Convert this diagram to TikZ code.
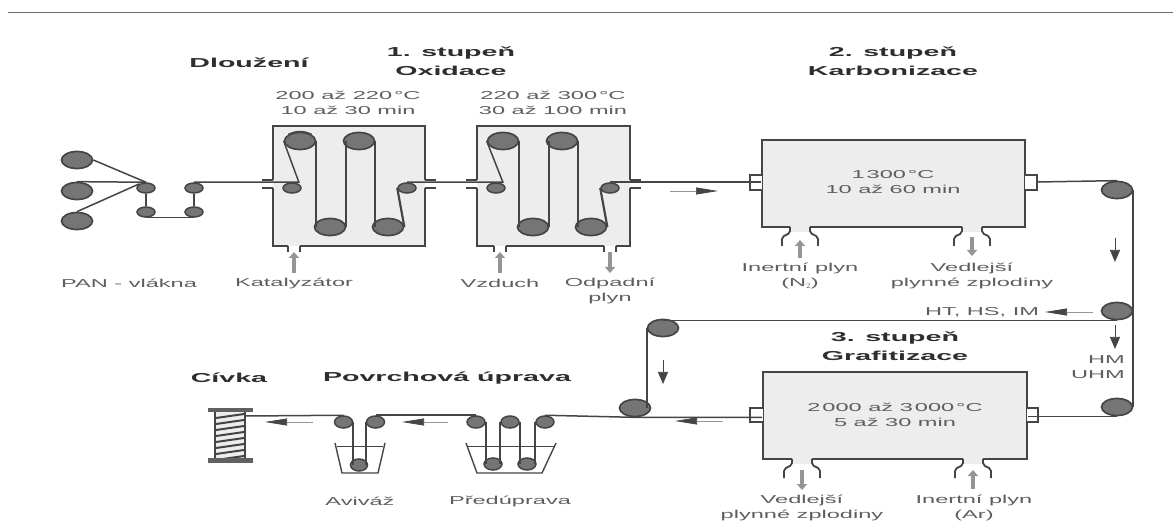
\documentclass[tikz,border=0pt]{standalone}
\usepackage{fontspec}
\setmainfont[FakeStretch=2.05,BoldFeatures={FakeStretch=2.2}]{Liberation Sans}
\usetikzlibrary{shapes.geometric,arrows.meta,calc}
\definecolor{ink}{HTML}{454545}
\definecolor{txt}{HTML}{5E5E5E}
\definecolor{head}{HTML}{2E2E2E}
\definecolor{boxfill}{HTML}{EDEDED}
\definecolor{wheel}{HTML}{757575}
\definecolor{gasgrey}{HTML}{959595}
\tikzset{
 fibre/.style={draw=ink,line width=1.5pt},
 fibrev/.style={draw=ink,line width=2.2pt},
 wall/.style={draw=ink,line width=1.8pt},
 chamber/.style={draw=ink,line width=1.8pt,fill=boxfill,rectangle,inner sep=0pt},
 big/.style={ellipse,draw=ink,line width=1.7pt,fill=wheel,minimum width=31pt,minimum height=17pt,inner sep=0pt},
 mid/.style={ellipse,draw=ink,line width=1.5pt,fill=wheel,minimum width=18pt,minimum height=12pt,inner sep=0pt},
 small/.style={ellipse,draw=ink,line width=1.5pt,fill=wheel,minimum width=18pt,minimum height=10pt,inner sep=0pt},
 flow/.style={draw=gasgrey,line width=.7pt,-{Triangle[length=22pt,width=7pt,color=ink]}},
 flowv/.style={draw=ink,line width=.7pt,-{Triangle[length=12pt,width=10pt,color=ink]}},
 gas/.style={draw=gasgrey,line width=4pt,-{Triangle[length=6pt,width=10pt,color=gasgrey]}},
 lab/.style={text=txt,font=\fontsize{11.5}{15}\selectfont,align=center,inner sep=0pt},
 ttl/.style={text=head,font=\fontsize{13}{19}\selectfont\bfseries,align=center,inner sep=0pt}
}
\begin{document}
\begin{tikzpicture}[x=1pt,y=-1pt]
\useasboundingbox (0,0) rectangle (1173,526);
\draw[draw=ink!80,line width=1pt] (8,13) -- (1173,13);
% chambers
\fill[boxfill] (273,126) rectangle (425,246);
\draw[wall] (273,180) -- (273,126) -- (425,126) -- (425,180);
\draw[wall] (273,188) -- (273,246) -- (288,246);
\draw[wall] (300,246) -- (425,246) -- (425,188);
\draw[wall] (262,180) -- (273,180) (262,188) -- (273,188) (425,180) -- (436,180) (425,188) -- (436,188);
\draw[wall] (288,246) -- (288,252) (300,246) -- (300,252);
\fill[boxfill] (477,126) rectangle (630,246);
\draw[wall] (477,180) -- (477,126) -- (630,126) -- (630,180);
\draw[wall] (477,188) -- (477,246) -- (494,246);
\draw[wall] (506,246) -- (604,246) (616,246) -- (630,246) -- (630,188);
\draw[wall] (466,180) -- (477,180) (466,188) -- (477,188) (630,180) -- (641,180) (630,188) -- (641,188);
\draw[wall] (494,246) -- (494,252) (506,246) -- (506,252) (604,246) -- (604,252) (616,246) -- (616,252);
\node[chamber,minimum width=263pt,minimum height=87pt] (karb) at (893.5,183.5) {};
\node[chamber,minimum width=264pt,minimum height=87pt] (graf) at (895,415.5) {};
\draw[wall,fill=white] (762,175) -- (750,175) -- (750,190) -- (762,190);
\draw[wall,fill=white] (1025,175) -- (1037,175) -- (1037,190) -- (1025,190);
\draw[wall,fill=white] (763,408) -- (750,408) -- (750,422) -- (763,422);
\draw[wall,fill=white] (1027,408) -- (1038,408) -- (1038,422) -- (1027,422);
% gas necks
\foreach \c/\yy in {800/227,972/227,802/459,973/459}{
 \fill[boxfill] (\c-10,\yy-1) -- (\c+10,\yy-1) -- (\c+10,\yy+5) -- (\c-10,\yy+5) -- cycle;
 \draw[wall,rounded corners=2pt] (\c-10,\yy) -- (\c-10,\yy+6) -- (\c-18,\yy+10) -- (\c-18,\yy+19);
 \draw[wall,rounded corners=2pt] (\c+10,\yy) -- (\c+10,\yy+6) -- (\c+18,\yy+10) -- (\c+18,\yy+19);
}
% pulleys
\node[big] (a1) at (77,160) {}; \node[big] (a2) at (77,191) {}; \node[big] (a3) at (77,221) {};
\node[small] (b1) at (146,188) {}; \node[small] (b2) at (146,212) {};
\node[small] (b3) at (194,212) {}; \node[small] (b4) at (194,188) {};
\node[small] (c0) at (292,188) {};
\node[big] (c1) at (300,141) {}; \node[big] (c2) at (330,227) {};
\node[big] (c3) at (359,141) {}; \node[big] (c4) at (388,227) {};
\node[small] (c5) at (407,188) {};
\node[small] (d0) at (496,188) {};
\node[big] (d1) at (503,141) {}; \node[big] (d2) at (533,227) {};
\node[big] (d3) at (562,141) {}; \node[big] (d4) at (591,227) {};
\node[small] (d5) at (610,188) {};
\node[big] (e1) at (1117,190) {}; \node[big] (e2) at (1117,311) {}; \node[big] (e3) at (1117,407) {};
\node[big] (f1) at (663,328) {}; \node[big] (f2) at (635,408) {};
\node[mid] (g5) at (545,422) {}; \node[mid] (g4) at (527,464) {}; \node[mid] (g3) at (510,422) {};
\node[mid] (g2) at (493,464) {}; \node[mid] (g1) at (476,422) {};
\node[mid] (h3) at (375.5,422) {}; \node[mid,minimum width=17pt] (h2) at (359,465) {}; \node[mid] (h1) at (343.5,422) {};
% fibres
\draw[fibre] (a1.east) -- (b1.north);
\draw[fibre] (a2.north) -- (b1.north);
\draw[fibre] (a3.north) -- (b1.north west);
\draw[fibre] (b1.south) -- (b2.north) (b2.south) -- (b3.south) (b3.north) -- (b4.south);
\draw[fibre] (b4.north) -- (c0.north east |- b4.north) -- (c1.west);
\draw[fibre] (c1.north west) to[bend left=25] (c1.north east);
\draw[fibrev] (c1.east) -- (c1.east |- c2);
\draw[fibrev] (c2.east) -- (c2.east |- c3);
\draw[fibrev] (c3.east) -- (c3.east |- c4);
\draw[fibrev] (c4.east) -- (c5.west);
\draw[fibre] (c5.north) -- (d0.north east |- c5.north) -- (d1.west);
\draw[fibrev] (d1.east) -- (d1.east |- d2);
\draw[fibrev] (d2.east) -- (d2.east |- d3);
\draw[fibrev] (d3.east) -- (d3.east |- d4);
\draw[fibrev] (d4.east) -- (d5.west);
\draw[fibre] (d5.north) -- (d5.north -| karb.west);
\draw[fibre] (1037,182) -- (e1.north);
\draw[fibrev] (e1.east) -- (e3.east);
\draw[fibre] (e2.south) -- (e2.south -| f1);
\draw[fibrev] (f1.west) -- (f1.west |- f2);
\draw[fibre] (e3.south) -- (e3.south -| graf.east);
\draw[fibre] (f2.south -| graf.west) -- (f2.south) -- (g5.north);
\draw[fibrev] (g5.west) -- (g5.west |- g4);
\draw[fibrev] (g3.east) -- (g3.east |- g4);
\draw[fibrev] (g3.west) -- (g3.west |- g2);
\draw[fibrev] (g1.east) -- (g1.east |- g2);
\draw[fibre] (g1.north) -- (h3.north);
\draw[fibrev] (h3.west) -- (h3.west |- h2);
\draw[fibrev] (h1.east) -- (h1.east |- h2);
\coordinate (spool) at (246,416);
\draw[fibre] (h1.north) -- (spool);
% baths
\draw[wall,line width=1.4pt] (335,443) -- (342,473) -- (378,473) -- (385,443);
\draw[wall,line width=1pt] (337,447) -- (383,447);
\draw[wall,line width=1.4pt] (466,443) -- (477,473) -- (542,473) -- (556,443);
\draw[wall,line width=1pt] (468,447) -- (554,447);
% spool
\node[rectangle,draw=ink,line width=1.8pt,fill=boxfill,minimum width=30pt,minimum height=51pt,inner sep=0pt] (coil) at (230,435.5) {};
\foreach \k in {0,...,7}{\draw[draw=ink,line width=2pt] (216,{414+\k*6+4}) -- (244,{414+\k*6});}
\fill[ink!85] (208,408) rectangle (253,412);
\fill[ink!85] (208,458) rectangle (253,463);
% process arrows
\draw[flow] (670,191) -- (718,191);
\draw[flow] (723,421) -- (675,421);
\draw[flow] (448,422) -- (402,422);
\draw[flow] (313,422) -- (265,422);
\draw[flow] (1093,312) -- (1045,312);
\draw[flowv] (1115,238) -- (1115,262);
\draw[flowv] (1115,325) -- (1115,349);
\draw[flowv] (663,360) -- (663,384);
% gas arrows
\draw[gas] (294,273) -- (294,252);
\draw[gas] (500,273) -- (500,252);
\draw[gas] (610,252) -- (610,273);
\draw[gas] (800,258) -- (800,240);
\draw[gas] (972,237) -- (972,256);
\draw[gas] (802,470) -- (802,490);
\draw[gas] (973,489) -- (973,470);
% titles
\node[ttl] (t0) at (249,63) {Dloužení};
\node[ttl] (t1) at (451,61.5) {1. stupeň\\Oxidace};
\node[ttl] (t2) at (893,61.5) {2. stupeň\\Karbonizace};
\node[ttl] (t3) at (895,346.5) {3. stupeň\\Grafitizace};
\node[ttl] (t4) at (229,378) {Cívka};
\node[ttl] (t5) at (447,378) {Povrchová úprava};
% labels
\node[lab] (l1) at (348,102.5) {200 až 220\,°C\\10 až 30 min};
\node[lab] (l2) at (553,102.5) {220 až 300\,°C\\30 až 100 min};
\node[lab] at (893,182) {1\kern2pt 300\,°C\\10 až 60 min};
\node[lab] at (895,414.5) {2\kern2pt 000 až 3\kern2pt 000\,°C\\5 až 30 min};
\node[lab] at (129,283) {PAN - vlákna};
\node[lab] at (294,283) {Katalyzátor};
\node[lab] at (500,283) {Vzduch};
\node[lab] at (610,290.5) {Odpadní\\plyn};
\node[lab] at (800,276) {Inertní plyn\\(N$_2$)};
\node[lab] at (972,275.5) {Vedlejší\\plynné zplodiny};
\node[lab] at (982,312) {HT, HS, IM};
\node[lab,align=right,anchor=east] at (1125,367.5) {HM\\UHM};
\node[lab] at (802,507.5) {Vedlejší\\plynné zplodiny};
\node[lab] at (974,507.5) {Inertní plyn\\(Ar)};
\node[lab] at (360,501) {Aviváž};
\node[lab] at (510,501) {Předúprava};
\end{tikzpicture}
\end{document}
